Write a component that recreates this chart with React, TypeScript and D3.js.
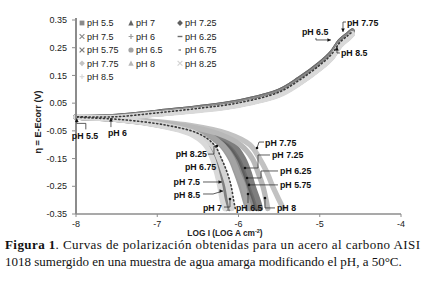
import React from "react";
import * as d3 from "d3";

// ---------- data ----------
const seriesNames = [
  "pH 5.5", "pH 7", "pH 7.25",
  "pH 7.5", "pH 6", "pH 6.25",
  "pH 5.75", "pH 6.5", "pH 6.75",
  "pH 7.75", "pH 8", "pH 8.25",
  "pH 8.5",
];
const seriesColors = [
  "#8a8a8a", "#666666", "#5f5f5f",
  "#8c8c8c", "#9c9c9c", "#6c6c6c",
  "#7e7e7e", "#a3a3a3", "#808080",
  "#c2c2c2", "#b8b8b8", "#d4d4d4",
  "#d9d9d9",
];
const seriesMarkers = [
  "square", "triangle", "diamond",
  "x", "plus", "dash",
  "x", "circle", "shortdash",
  "diamond", "triangle", "x",
  "plus",
];

// cathodic branch: E levels (V) and log I for each series at those levels
const cathodicE = [0, -0.01, -0.03, -0.06, -0.1, -0.15, -0.2, -0.25, -0.3, -0.33];
const cathodicLogI = [
  [-8, -7.37, -6.79, -6.37, -6.15, -6.03, -5.96, -5.9, -5.85, -5.82], // pH 5.5
  [-8, -7.42, -6.88, -6.49, -6.3, -6.21, -6.14, -6.09, -6.06, -6.04], // pH 7
  [-8, -7.36, -6.76, -6.33, -6.11, -5.99, -5.92, -5.86, -5.8, -5.77], // pH 7.25
  [-8, -7.46, -6.97, -6.58, -6.39, -6.3, -6.25, -6.21, -6.18, -6.15], // pH 7.5
  [-8, -7.39, -6.84, -6.42, -6.22, -6.1, -6.03, -5.97, -5.92, -5.89], // pH 6
  [-8, -7.35, -6.75, -6.31, -6.08, -5.96, -5.89, -5.84, -5.78, -5.75], // pH 6.25
  [-8, -7.35, -6.74, -6.3, -6.06, -5.94, -5.87, -5.82, -5.76, -5.73], // pH 5.75
  [-8, -7.38, -6.82, -6.4, -6.2, -6.08, -6.01, -5.94, -5.9, -5.86], // pH 6.5
  [-8, -7.45, -6.95, -6.55, -6.36, -6.27, -6.21, -6.17, -6.13, -6.11], // pH 6.75
  [-8, -7.27, -6.6, -6.13, -5.86, -5.74, -5.65, -5.58, -5.5, -5.45], // pH 7.75
  [-8, -7.34, -6.7, -6.25, -5.98, -5.83, -5.76, -5.7, -5.66, -5.64], // pH 8
  [-8, -7.43, -6.91, -6.52, -6.33, -6.24, -6.18, -6.13, -6.1, -6.08], // pH 8.25
  [-8, -7.47, -6.99, -6.6, -6.41, -6.32, -6.27, -6.23, -6.2, -6.17], // pH 8.5
];

// anodic branch: log I levels and E (V) for each series
const anodicLogI = [-8, -7.5, -7, -6.5, -6, -5.5, -5.25, -5, -4.85, -4.75, -4.65, -4.6];
const anodicE = [
  [0, 0, 0.014, 0.029, 0.049, 0.087, 0.13, 0.184, 0.224, 0.267, 0.292, 0.305], // pH 5.5
  [0, 0.001, 0.015, 0.031, 0.051, 0.09, 0.133, 0.187, 0.228, 0.27, 0.295, 0.307], // pH 7
  [0, 0.002, 0.017, 0.033, 0.054, 0.093, 0.137, 0.191, 0.232, 0.273, 0.298, 0.31], // pH 7.25
  [0, 0, 0.013, 0.028, 0.048, 0.086, 0.129, 0.183, 0.223, 0.266, 0.291, 0.304], // pH 7.5
  [0, 0, 0.014, 0.029, 0.049, 0.088, 0.131, 0.185, 0.225, 0.268, 0.293, 0.305], // pH 6
  [0, 0.002, 0.017, 0.033, 0.054, 0.093, 0.137, 0.191, 0.232, 0.273, 0.298, 0.31], // pH 6.25
  [0, 0.001, 0.015, 0.031, 0.051, 0.09, 0.133, 0.187, 0.228, 0.27, 0.295, 0.307], // pH 5.75
  [0, 0, 0.014, 0.029, 0.049, 0.087, 0.13, 0.184, 0.224, 0.267, 0.292, 0.305], // pH 6.5
  [0, 0, 0.013, 0.028, 0.048, 0.086, 0.129, 0.183, 0.223, 0.266, 0.291, 0.304], // pH 6.75
  [-0.002, -0.002, 0.011, 0.025, 0.044, 0.081, 0.123, 0.176, 0.216, 0.259, 0.285, 0.3], // pH 7.75
  [-0.002, -0.002, 0.011, 0.025, 0.044, 0.081, 0.123, 0.176, 0.216, 0.259, 0.285, 0.3], // pH 8
  [-0.002, -0.002, 0.011, 0.025, 0.044, 0.081, 0.123, 0.176, 0.216, 0.259, 0.285, 0.3], // pH 8.25
  [-0.003, -0.003, 0.01, 0.023, 0.042, 0.079, 0.121, 0.174, 0.214, 0.257, 0.283, 0.298], // pH 8.5
];

const xTicks = [-8, -7, -6, -5, -4];
const yTicks = [0.35, 0.25, 0.15, 0.05, -0.05, -0.15, -0.25, -0.35];

// annotations: label, target point (log I, E), arrow type
const annoLabels = [
  "pH 5.5", "pH 6", "pH 8.25", "pH 6.75", "pH 7.5", "pH 8.5", "pH 7", "pH 6.5",
  "pH 8", "pH 5.75", "pH 6.25", "pH 7.25", "pH 7.75", "pH 7.75", "pH 6.5", "pH 8.5",
];
const annoTargets: [number, number][] = [
  [-7.99, -0.005], [-7.57, -0.004], [-6.265, -0.105], [-6.2, -0.172], [-6.203, -0.2345],
  [-6.19, -0.267], [-6.105, -0.296], [-5.883, -0.278], [-5.674, -0.292], [-5.871, -0.245],
  [-5.895, -0.22], [-5.92, -0.184], [-5.772, -0.112], [-4.714, 0.3067], [-4.862, 0.278],
  [-4.788, 0.2526],
];
const annoKinds = [
  "up", "up", "dot", "none", "right", "right", "dot", "dot",
  "dot", "dot", "dot", "dot", "dot", "down", "right", "up",
];

// ---------- layout (pixels) ----------
const W = 427;
const H = 286;
const annoLayout: { path: [number, number][]; label: [number, number]; anchor: string }[] = [
  { path: [[0, 0], [0, 5], [9, 5], [9, 11]], label: [-5, 21], anchor: "start" },
  { path: [[0, 0], [0, 9]], label: [-3, 18], anchor: "start" },
  { path: [[0, 0], [-3, 0], [-3, 8], [-9, 8]], label: [-10, 11], anchor: "end" },
  { path: [], label: [-6, 5], anchor: "end" },
  { path: [[0, 0], [-19, 0]], label: [-22, 3], anchor: "end" },
  { path: [[0, 0], [-10, 3], [-20, 3]], label: [-23, 7], anchor: "end" },
  { path: [[0, 0], [0, 8], [-6, 8]], label: [-8, 12], anchor: "end" },
  { path: [[0, 0], [0, 9]], label: [-12, 17], anchor: "start" },
  { path: [[0, 0], [0, 10], [10, 10]], label: [12, 13], anchor: "start" },
  { path: [[0, 0], [29, 0]], label: [31, 3], anchor: "start" },
  { path: [[0, 0], [14, 0], [14, -7], [31, -7]], label: [33, -4], anchor: "start" },
  { path: [[0, 0], [13, 0], [13, -13], [25, -13]], label: [27, -10], anchor: "start" },
  { path: [[0, 0], [2, -6], [7, -6]], label: [8, -2], anchor: "start" },
  { path: [[0, 0], [0, -10], [3, -10]], label: [4, -6], anchor: "start" },
  { path: [[0, 0], [-15, 0], [-15, -2]], label: [-29, -5], anchor: "start" },
  { path: [[0, 0], [0, 6], [3, 6]], label: [4, 9], anchor: "start" },
];

const FONT = "'Liberation Sans', Arial, sans-serif";

function Marker({ type, cx, cy, color }: { type: string; cx: number; cy: number; color: string }) {
  const s = 2.4;
  switch (type) {
    case "square":
      return <rect x={cx - s} y={cy - s} width={2 * s} height={2 * s} fill={color} />;
    case "triangle":
      return <path d={`M${cx},${cy - s - 0.5}L${cx + s + 0.3},${cy + s}L${cx - s - 0.3},${cy + s}Z`} fill={color} />;
    case "diamond":
      return <path d={`M${cx},${cy - s - 0.5}L${cx + s + 0.5},${cy}L${cx},${cy + s + 0.5}L${cx - s - 0.5},${cy}Z`} fill={color} />;
    case "circle":
      return <circle cx={cx} cy={cy} r={s + 0.2} fill={color} />;
    case "x":
      return (
        <path d={`M${cx - s},${cy - s}L${cx + s},${cy + s}M${cx - s},${cy + s}L${cx + s},${cy - s}`} stroke={color} strokeWidth={1.2} />
      );
    case "plus":
      return (
        <path d={`M${cx - s},${cy}L${cx + s},${cy}M${cx},${cy - s}L${cx},${cy + s}`} stroke={color} strokeWidth={1.2} />
      );
    case "dash":
      return <path d={`M${cx - s},${cy}L${cx + s},${cy}`} stroke={color} strokeWidth={1.4} />;
    case "shortdash":
      return <path d={`M${cx - 1.5},${cy}L${cx + 1},${cy}`} stroke={color} strokeWidth={1.4} />;
    default:
      return null;
  }
}

export default function App() {
  const x = d3.scaleLinear().domain([-8, -4]).range([76, 401]);
  const y = d3.scaleLinear().domain([-0.35, 0.35]).range([214, 20]);

  const line = d3
    .line<[number, number]>()
    .x((d) => x(d[0]))
    .y((d) => y(d[1]))
    .curve(d3.curveCatmullRom.alpha(0.5));

  const seriesPoints: [number, number][][] = seriesNames.map((_, i) => {
    const cath: [number, number][] = cathodicE
      .map((e, k) => [cathodicLogI[i][k], e] as [number, number])
      .reverse();
    const an: [number, number][] = anodicLogI
      .slice(1)
      .map((l, k) => [l, anodicE[i][k + 1]] as [number, number]);
    return [...cath, ...an];
  });

  // draw order: as in legend, but pH 7 (dark points) last as a dotted trace
  const order = [0, 2, 3, 4, 5, 6, 7, 8, 9, 10, 11, 12];

  const legendCols = [82, 131, 180];
  const legendRows = [23, 36.5, 50, 63.3, 76.6];

  return (
    <svg width={W} height={H} style={{ position: "absolute", left: 0, top: 0, background: "#fff" }}>
      <rect x={0} y={0} width={W} height={H} fill="#fff" />
      {/* curves */}
      <g fill="none" strokeLinecap="round" strokeLinejoin="round">
        {order.map((i) => (
          <path key={i} d={line(seriesPoints[i]) || ""} stroke={seriesColors[i]} strokeWidth={5.3} />
        ))}
        <path d={line(seriesPoints[1]) || ""} stroke="#3a3a3a" strokeWidth={1.6} strokeDasharray="1.2 2.6" />
      </g>

      {/* axes */}
      <line x1={76} x2={401} y1={y(-0.35)} y2={y(-0.35)} stroke="#8c8c8c" strokeWidth={1.5} />
      <line x1={76} x2={76} y1={y(0.35) - 2} y2={y(-0.35)} stroke="#8c8c8c" strokeWidth={2} />
      {yTicks.map((t) => (
        <g key={t}>
          <line x1={72} x2={76} y1={y(t)} y2={y(t)} stroke="#8c8c8c" strokeWidth={1} />
          <text x={67} y={y(t)} dy="0.35em" textAnchor="end" fontFamily={FONT} fontSize={9} fill="#222">
            {t.toFixed(2)}
          </text>
        </g>
      ))}
      {xTicks.map((t) => (
        <g key={t}>
          <line x1={x(t)} x2={x(t)} y1={214} y2={217} stroke="#8c8c8c" strokeWidth={1} />
          <text x={x(t)} y={227} textAnchor="middle" fontFamily={FONT} fontSize={9} fill="#222">
            {t}
          </text>
        </g>
      ))}
      <text
        transform={`translate(41,${122}) rotate(-90)`}
        textAnchor="middle"
        fontFamily={FONT}
        fontSize={9}
        fontWeight="bold"
        fill="#222"
      >
        η = E-Ecorr (V)
      </text>
      <text x={225} y={235.5} textAnchor="middle" fontFamily={FONT} fontSize={8.3} fontWeight="bold" fill="#222">
        LOG I (LOG A cm<tspan dy={-3} fontSize={5.5}>-2</tspan>
        <tspan dy={3}>)</tspan>
      </text>

      {/* legend */}
      {seriesNames.map((n, i) => {
        const c = i % 3;
        const r = Math.floor(i / 3);
        const cy = legendRows[r];
        return (
          <g key={n}>
            <Marker type={seriesMarkers[i]} cx={legendCols[c]} cy={cy} color={seriesColors[i]} />
            <text x={legendCols[c] + 5} y={cy + 3.2} fontFamily={FONT} fontSize={9} fill="#222">
              {n}
            </text>
          </g>
        );
      })}

      {/* annotations */}
      {annoLabels.map((lab, i) => {
        const tx = x(annoTargets[i][0]);
        const ty = y(annoTargets[i][1]);
        const L = annoLayout[i];
        const pts = L.path.map((p) => [tx + p[0], ty + p[1]]);
        const kind = annoKinds[i];
        let head: React.ReactNode = null;
        if (kind === "dot") head = <circle cx={tx} cy={ty} r={1.3} fill="#111" />;
        if (kind === "up") head = <path d={`M${tx},${ty}L${tx - 1.8},${ty + 3.5}L${tx + 1.8},${ty + 3.5}Z`} fill="#111" />;
        if (kind === "down") head = <path d={`M${tx},${ty}L${tx - 1.8},${ty - 3.5}L${tx + 1.8},${ty - 3.5}Z`} fill="#111" />;
        if (kind === "right") head = <path d={`M${tx},${ty}L${tx - 3.5},${ty - 1.8}L${tx - 3.5},${ty + 1.8}Z`} fill="#111" />;
        return (
          <g key={i}>
            {pts.length > 1 && (
              <polyline points={pts.map((p) => p.join(",")).join(" ")} fill="none" stroke="#333" strokeWidth={0.8} />
            )}
            {head}
            <text
              x={tx + L.label[0]}
              y={ty + L.label[1]}
              textAnchor={L.anchor as any}
              fontFamily={FONT}
              fontSize={8.8}
              fontWeight="bold"
              fill="#111"
            >
              {lab}
            </text>
          </g>
        );
      })}

      {/* caption */}
      <text x={5} y={249} fontFamily="'Liberation Serif', 'Times New Roman', serif" fontSize={13} fill="#111" textLength={415} lengthAdjust="spacing">
        <tspan fontWeight="bold">Figura 1</tspan>. Curvas de polarización obtenidas para un acero al carbono AISI
      </text>
      <text x={5} y={266} fontFamily="'Liberation Serif', 'Times New Roman', serif" fontSize={13} fill="#111">
        1018 sumergido en una muestra de agua amarga modificando el pH, a 50°C.
      </text>
    </svg>
  );
}
